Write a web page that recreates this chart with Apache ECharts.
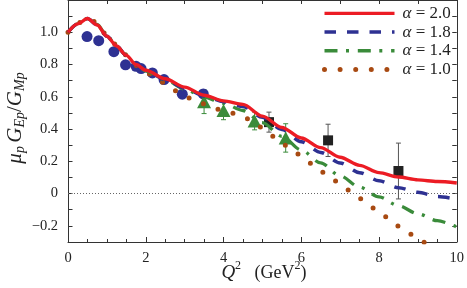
<!DOCTYPE html>
<html><head><meta charset="utf-8">
<script src="https://cdn.jsdelivr.net/npm/echarts@6/dist/echarts.min.js"></script>
<style>html,body{margin:0;padding:0;background:#fff}#c{width:467px;height:288px}</style>
</head><body><div id="c"></div>
<script>
// ---- data ----
const curveX = [0,0.25,0.5,0.75,1,1.25,1.5,1.75,2,2.5,3,3.5,4,4.5,5,5.5,6,6.5,7,7.5,8,8.5,9,9.5,10];
const alpha20 = [1.0,1.052,1.085,1.045,0.975,0.915,0.857,0.80,0.765,0.712,0.66,0.61,0.575,0.553,0.48,0.41,0.345,0.285,0.225,0.175,0.13,0.103,0.085,0.075,0.066];
const alpha18 = [1.0,1.052,1.085,1.045,0.975,0.915,0.857,0.80,0.763,0.708,0.655,0.605,0.57,0.54,0.473,0.398,0.322,0.255,0.19,0.13,0.08,0.037,0.008,-0.018,-0.035];
const alpha14 = [1.0,1.052,1.085,1.048,0.978,0.915,0.857,0.80,0.76,0.705,0.648,0.598,0.56,0.515,0.44,0.355,0.27,0.19,0.11,0.04,-0.02,-0.075,-0.125,-0.168,-0.207];
const alpha10X = [0,0.3,0.5,0.66,0.92,1.19,1.48,1.77,2.1,2.45,2.79,3.14,3.5,3.88,4.26,4.63,4.96,5.29,5.61,5.95,6.27,6.59,6.92,7.25,7.57,7.9,8.23,8.55,8.89,9.2];
const alpha10 = [1.0,1.06,1.083,1.067,0.996,0.928,0.86,0.793,0.742,0.69,0.637,0.592,0.557,0.523,0.498,0.464,0.412,0.354,0.299,0.243,0.186,0.13,0.076,0.02,-0.035,-0.093,-0.148,-0.207,-0.258,-0.31];

const circX = [0.49,0.79,1.18,1.48,1.75,1.88,2.17,2.47,2.94,3.48];
const circY = [0.973,0.948,0.88,0.798,0.789,0.775,0.748,0.707,0.616,0.618];
const circErr = [0.01,0.01,0.01,0.01,0.01,0.01,0.012,0.015,0.02,0.025];
const triX = [3.5,4.0,4.8,5.6];
const triY = [0.57,0.515,0.45,0.345];
const triErr = [0.074,0.057,0.055,0.088];
const sqX = [5.17,6.69,8.5];
const sqY = [0.443,0.33,0.14];
const sqErr = [0.062,0.1,0.173];

const seriesNames = ['α = 2.0','α = 1.8','α = 1.4','α = 1.0'];

// ---- styles ----
const FONT = 'Liberation Serif';
const RED='#ec1c24', BLUE='#2e3192', GREEN='#3a8b3a', BROWN='#a84a12';
const pairs = (xs, ys) => xs.map((x,i)=>[x, ys[i]]);

function errSeries(xs, ys, es, color){
  return {
    type:'custom', silent:true, z:2,
    data: xs.map((x,i)=>[x, ys[i]-es[i], ys[i]+es[i]]),
    encode:{x:0, y:[1,2]},
    renderItem:(params, api)=>{
      const x = api.value(0);
      const p1 = api.coord([x, api.value(1)]);
      const p2 = api.coord([x, api.value(2)]);
      const cw = 2.5;
      const st = {stroke:color, lineWidth:1};
      return {type:'group', children:[
        {type:'line', shape:{x1:p1[0],y1:p1[1],x2:p2[0],y2:p2[1]}, style:st},
        {type:'line', shape:{x1:p1[0]-cw,y1:p1[1],x2:p1[0]+cw,y2:p1[1]}, style:st},
        {type:'line', shape:{x1:p2[0]-cw,y1:p2[1],x2:p2[0]+cw,y2:p2[1]}, style:st}
      ]};
    }
  };
}

const lineStyles = [
  {color:RED, width:3.4, type:'solid', cap:'butt'},
  {color:BLUE, width:3.5, type:[11.5,11], cap:'butt'},
  {color:GREEN, width:3.3, type:[13,8.5,3,8.8], cap:'butt'},
  {color:BROWN, width:5, type:[0,15.6], cap:'round'}
];

const chart = echarts.init(document.getElementById('c'), null, {renderer:'canvas'});
const tickLabelStyle = {fontFamily:FONT, fontSize:14.5, color:'#222'};
const option = {
  animation:false,
  backgroundColor:'#fff',
  grid:{left:68, right:8, top:0, bottom:46},
  xAxis:[
    {type:'value', min:0, max:10, interval:2, position:'bottom',
     axisLine:{onZero:false, lineStyle:{color:'#333', width:1}},
     axisTick:{inside:true, length:5, lineStyle:{color:'#333'}},
     minorTick:{show:true, splitNumber:4, length:3, lineStyle:{color:'#333'}},
     splitLine:{show:false},
     axisLabel:Object.assign({margin:9, formatter:v=>String(Math.round(v))}, tickLabelStyle)},
    {type:'value', min:0, max:10, interval:1, position:'top',
     axisLine:{onZero:false, lineStyle:{color:'#333', width:1}},
     axisTick:{inside:true, length:4, lineStyle:{color:'#333'}},
     splitLine:{show:false}, axisLabel:{show:false}}
  ],
  yAxis:[
    {type:'value', min:-0.3, max:1.2, interval:0.1, position:'left',
     axisLine:{onZero:false, lineStyle:{color:'#333', width:1}},
     axisTick:{inside:true, length:4.5, lineStyle:{color:'#333'}},
     splitLine:{show:false},
     axisLabel:Object.assign({margin:10, showMinLabel:true, showMaxLabel:true, formatter:v=>{
        const k = Math.round(v*10);
        if (k % 2 !== 0 || k > 10 || k < -2) return '';
        if (k === 0) return '0';
        if (k < 0) return '\u2212' + (Math.abs(k)/10).toFixed(1);
        return (k/10).toFixed(1);
     }}, tickLabelStyle)},
    {type:'value', min:-0.3, max:1.2, interval:0.1, position:'right',
     axisLine:{onZero:false, lineStyle:{color:'#333', width:1}},
     axisTick:{inside:true, length:4.5, lineStyle:{color:'#333'}},
     splitLine:{show:false}, axisLabel:{show:false}}
  ],
  legend:{
    orient:'vertical', left:317, top:-1, itemWidth:70, itemHeight:10, itemGap:0,
    data:seriesNames.map((n,i)=>({name:n, lineStyle:{width:lineStyles[i].width, type:lineStyles[i].type, cap:lineStyles[i].cap, color:lineStyles[i].color},
       itemStyle:{color:'rgba(0,0,0,0)', borderWidth:0, opacity:0}})),
    itemStyle:{color:'rgba(0,0,0,0)', borderWidth:0, opacity:0},
    formatter:n=>'{a|α}{b| = ' + n.split('= ')[1] + '}',
    textStyle:{fontFamily:FONT, fontSize:17, color:'#222', lineHeight:18.7,
      rich:{a:{fontFamily:FONT, fontSize:17, fontStyle:'italic', color:'#222', padding:[0,0,0,3]},
            b:{fontFamily:FONT, fontSize:17, color:'#222'}}},
    selectedMode:false
  },
  graphic:[
    {type:'text', x:15, y:118, rotation:Math.PI/2,
     style:{text:'{i|μ}{s|p} {i|G}{s|Ep}{n|/}{i|G}{s|Mp}', align:'center', verticalAlign:'middle',
       rich:{
         i:{fontFamily:FONT, fontStyle:'italic', fontSize:21, lineHeight:24, verticalAlign:'middle', fill:'#222'},
         n:{fontFamily:FONT, fontSize:21, lineHeight:24, verticalAlign:'middle', fill:'#222'},
         s:{fontFamily:FONT, fontStyle:'italic', fontSize:14, lineHeight:13, verticalAlign:'bottom', fill:'#222'}
       }}},
    {type:'text', x:264, y:273,
     style:{text:'{i|Q}{p|2}{n|   (GeV}{p|2}{n|)}', align:'center', verticalAlign:'middle',
       rich:{
         i:{fontFamily:FONT, fontStyle:'italic', fontSize:19, lineHeight:22, verticalAlign:'middle', fill:'#222'},
         n:{fontFamily:FONT, fontSize:18, lineHeight:22, verticalAlign:'middle', fill:'#222'},
         p:{fontFamily:FONT, fontSize:12, lineHeight:26, verticalAlign:'top', fill:'#222'}
       }}}
  ],
  series:[
    errSeries(circX, circY, circErr, BLUE),
    errSeries(triX, triY, triErr, GREEN),
    errSeries(sqX, sqY, sqErr, '#555'),
    {type:'scatter', name:'circles', data:pairs(circX, circY), symbol:'circle', symbolSize:11,
     itemStyle:{color:BLUE, opacity:1}, z:2, silent:true},
    {type:'scatter', name:'triangles', data:pairs(triX, triY), symbol:'triangle', symbolSize:[14,13],
     itemStyle:{color:GREEN, opacity:1}, z:2, silent:true},
    {type:'scatter', name:'squares', data:pairs(sqX, sqY), symbol:'rect', symbolSize:10,
     itemStyle:{color:'#222', opacity:1}, z:2, silent:true},
    {type:'line', name:seriesNames[3], data:pairs(alpha10X, alpha10), showSymbol:false, symbol:'none',
     smooth:0.3, smoothMonotone:'x', z:3, silent:true,
     lineStyle:lineStyles[3], itemStyle:{color:BROWN},
     markLine:{silent:true, symbol:'none', label:{show:false}, data:[{yAxis:0}],
       lineStyle:{color:'#666', width:1, type:[1,2]}, z:1}},
    {type:'line', name:seriesNames[2], data:pairs(curveX, alpha14), showSymbol:false, symbol:'none',
     smooth:0.3, smoothMonotone:'x', z:4, silent:true,
     lineStyle:lineStyles[2], itemStyle:{color:GREEN}},
    {type:'line', name:seriesNames[1], data:pairs(curveX, alpha18), showSymbol:false, symbol:'none',
     smooth:0.3, smoothMonotone:'x', z:5, silent:true,
     lineStyle:lineStyles[1], itemStyle:{color:BLUE}},
    {type:'line', name:seriesNames[0], data:pairs(curveX, alpha20), showSymbol:false, symbol:'none',
     smooth:0.3, smoothMonotone:'x', z:6, silent:true,
     lineStyle:lineStyles[0], itemStyle:{color:RED}}
  ]
};
chart.setOption(option);
</script>
</body></html>
